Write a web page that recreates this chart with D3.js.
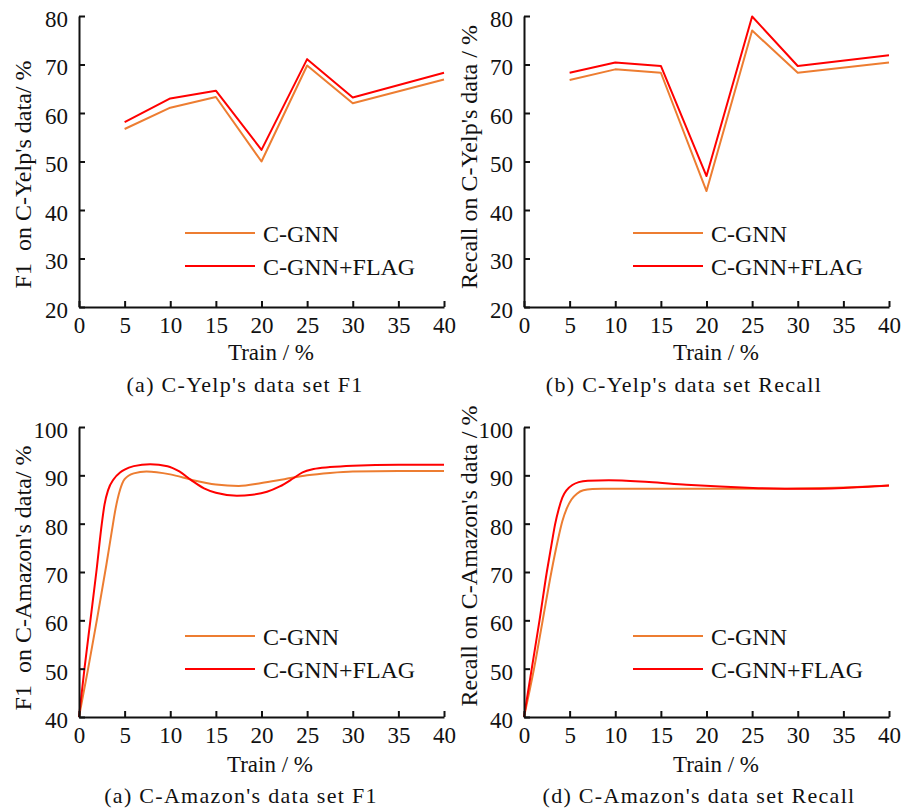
<!DOCTYPE html>
<html><head><meta charset="utf-8">
<script src="https://cdn.jsdelivr.net/npm/d3@7"></script>
<style>
body{margin:0;background:#fff}
text{font-family:"Liberation Serif","Times New Roman",serif;fill:#111}
</style>
</head><body>
<svg id="chart" width="908" height="812"></svg>
<script>
// ---------- data ----------
const seriesNames = ["C-GNN", "C-GNN+FLAG"];
const seriesColors = ["#ED7D31", "#FF0000"];

const xTickValues = [0, 5, 10, 15, 20, 25, 30, 35, 40];
const yelpYTicks = [20, 30, 40, 50, 60, 70, 80];
const amzYTicks = [40, 50, 60, 70, 80, 90, 100];

// C-Yelp (points joined by straight lines)
const yelpTrain = [5, 10, 15, 20, 25, 30, 40];
const yelpF1_CGNN = [56.7, 61.1, 63.3, 50.0, 69.8, 62.0, 66.9];
const yelpF1_FLAG = [58.1, 63.0, 64.6, 52.4, 71.1, 63.2, 68.3];
const yelpRecall_CGNN = [66.8, 69.0, 68.3, 43.9, 77.0, 68.3, 70.4];
const yelpRecall_FLAG = [68.3, 70.4, 69.7, 47.0, 79.9, 69.7, 71.9];

// C-Amazon (smooth curves)
const amzF1_CGNN_x = [0, 1, 2, 3, 3.6, 4, 4.5, 5, 6, 7.4, 10, 12.5, 15, 17.5, 20, 22.5, 25, 27.5, 30, 35, 40];
const amzF1_CGNN   = [40, 50, 60.5, 71.5, 78.5, 83, 87, 89.2, 90.4, 90.8, 90.2, 89.0, 88.1, 87.8, 88.4, 89.2, 90.0, 90.5, 90.8, 90.9, 90.9];
const amzF1_FLAG_x = [0, 0.6, 1.25, 1.9, 2.5, 2.8, 3.2, 3.8, 4.5, 5, 6, 7.8, 9.7, 11, 12.3, 13.7, 15, 17.3, 19, 20.6, 22, 23.5, 24.5, 25.7, 27.5, 30, 35, 40];
const amzF1_FLAG   = [40, 50, 60, 70, 80, 84, 87, 89.2, 90.6, 91.2, 91.9, 92.3, 91.9, 90.8, 89.0, 87.3, 86.4, 85.8, 86.0, 86.6, 87.7, 89.4, 90.6, 91.3, 91.7, 92.0, 92.2, 92.2];

const amzRecall_CGNN_x = [0, 1.1, 2.05, 3, 3.7, 4.2, 4.7, 5.2, 5.8, 6.5, 7.5, 8.6, 15, 20, 25, 30, 35, 40];
const amzRecall_CGNN   = [40, 50, 60, 70, 76.5, 80.5, 83.2, 85.0, 86.2, 86.9, 87.15, 87.2, 87.2, 87.2, 87.2, 87.3, 87.5, 87.9];
const amzRecall_FLAG_x = [0, 0.85, 1.7, 2.5, 3, 3.4, 3.8, 4.2, 4.7, 5.3, 6, 7, 9.3, 13.7, 17.8, 25.1, 30.6, 35, 40];
const amzRecall_FLAG   = [40, 50, 60, 70, 75.5, 79.8, 83.0, 85.4, 87.0, 88.0, 88.6, 88.9, 89.0, 88.6, 88.05, 87.4, 87.2, 87.4, 87.9];

const yLabels = ["F1  on C-Yelp's data/ %", "Recall on C-Yelp's data / %",
                 "F1  on C-Amazon's data/ %", "Recall on C-Amazon's data / %"];
const captions = ["(a) C-Yelp's data set F1", "(b) C-Yelp's data set Recall",
                  "(a) C-Amazon's data set F1", "(d) C-Amazon's data set Recall"];
const xLabel = "Train / %";

// ---------- layout ----------
const svg = d3.select("#chart");
const panels = [
  {x0: 79, x1: 444, y0: 307, y1: 16, dom: [20, 80], ticks: yelpYTicks,
   series: [[yelpTrain, yelpF1_CGNN], [yelpTrain, yelpF1_FLAG]], curve: d3.curveLinear,
   yl: {x: 31, y: 174.5}, xl: {x: 271, y: 360}, cap: {x: 245, y: 391.5}, leg: {x: 185, y: 233},
   yLabel: yLabels[0], caption: captions[0]},
  {x0: 524, x1: 889, y0: 307, y1: 16, dom: [20, 80], ticks: yelpYTicks,
   series: [[yelpTrain, yelpRecall_CGNN], [yelpTrain, yelpRecall_FLAG]], curve: d3.curveLinear,
   yl: {x: 477, y: 157}, xl: {x: 716, y: 360}, cap: {x: 684, y: 391.5}, leg: {x: 633, y: 233},
   yLabel: yLabels[1], caption: captions[1]},
  {x0: 79, x1: 444, y0: 717, y1: 427, dom: [40, 100], ticks: amzYTicks,
   series: [[amzF1_CGNN_x, amzF1_CGNN], [amzF1_FLAG_x, amzF1_FLAG]], curve: d3.curveMonotoneX,
   yl: {x: 31, y: 578}, xl: {x: 270, y: 772}, cap: {x: 241, y: 803}, leg: {x: 185, y: 636},
   yLabel: yLabels[2], caption: captions[2]},
  {x0: 524, x1: 889, y0: 717, y1: 427, dom: [40, 100], ticks: amzYTicks,
   series: [[amzRecall_CGNN_x, amzRecall_CGNN], [amzRecall_FLAG_x, amzRecall_FLAG]], curve: d3.curveMonotoneX,
   yl: {x: 477, y: 556}, xl: {x: 716, y: 772}, cap: {x: 699, y: 803}, leg: {x: 633, y: 636},
   yLabel: yLabels[3], caption: captions[3]}
];

panels.forEach(p => {
  const g = svg.append("g");
  const x = d3.scaleLinear().domain([0, 40]).range([p.x0, p.x1]);
  const y = d3.scaleLinear().domain(p.dom).range([p.y0, p.y1]);

  // lines
  p.series.forEach((s, i) => {
    const pts = s[0].map((xv, k) => [xv, s[1][k]]);
    g.append("path").datum(pts)
      .attr("fill", "none").attr("stroke", seriesColors[i]).attr("stroke-width", 2)
      .attr("stroke-linejoin", "round")
      .attr("d", d3.line().x(d => x(d[0])).y(d => y(d[1])).curve(p.curve));
  });

  // axes
  const ax = g.append("g").attr("transform", `translate(0,${p.y0})`)
    .call(d3.axisBottom(x).tickValues(xTickValues).tickSizeInner(-6).tickSizeOuter(0).tickPadding(0));
  const ay = g.append("g").attr("transform", `translate(${p.x0},0)`)
    .call(d3.axisLeft(y).tickValues(p.ticks).tickSizeInner(-6).tickSizeOuter(0).tickPadding(0));
  [ax, ay].forEach(a => {
    a.attr("font-family", null).attr("font-size", null);
    a.select(".domain").attr("stroke", "#111").attr("stroke-width", 2);
    a.selectAll(".tick line").attr("stroke", "#111").attr("stroke-width", 2);
    a.selectAll(".tick text").style("font-size", "23px")
      .style("font-family", '"Liberation Serif","Times New Roman",serif').attr("fill", "#111");
  });
  ax.selectAll(".tick text").attr("y", 26).attr("dy", 0);
  ay.selectAll(".tick text").attr("x", -11).attr("dy", "0.45em");

  // axis titles
  g.append("text").attr("x", p.xl.x).attr("y", p.xl.y).attr("text-anchor", "middle")
    .style("font-size", "23px").text(xLabel);
  g.append("text").attr("transform", `translate(${p.yl.x},${p.yl.y}) rotate(-90)`)
    .attr("text-anchor", "middle").style("font-size", "24px").style("white-space", "pre")
    .text(p.yLabel);

  // caption
  g.append("text").attr("x", p.cap.x).attr("y", p.cap.y).attr("text-anchor", "middle")
    .style("font-size", "22px").style("letter-spacing", "1.3px").text(p.caption);

  // legend
  seriesNames.forEach((n, i) => {
    const ly = p.leg.y + i * 33;
    g.append("line").attr("x1", p.leg.x).attr("x2", p.leg.x + 70).attr("y1", ly).attr("y2", ly)
      .attr("stroke", seriesColors[i]).attr("stroke-width", 2);
    g.append("text").attr("x", p.leg.x + 78).attr("y", ly + 8.5)
      .style("font-size", "24px").text(n);
  });
});
</script>
</body></html>
